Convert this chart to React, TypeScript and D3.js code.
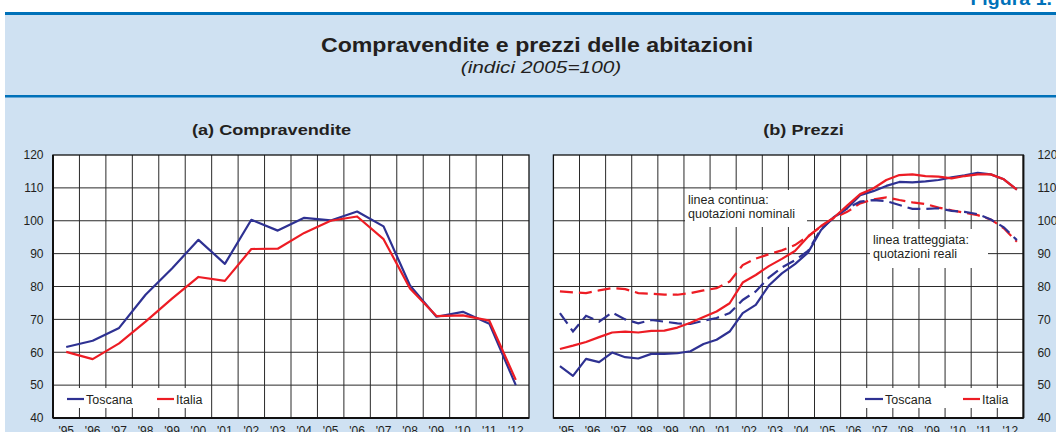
import React from "react";
import * as d3 from "d3";

// ---------- DATA ----------
const years = ["'95", "'96", "'97", "'98", "'99", "'00", "'01", "'02", "'03", "'04", "'05", "'06", "'07", "'08", "'09", "'10", "'11", "'12"];
const yTicks = [40, 50, 60, 70, 80, 90, 100, 110, 120];

// (a) Compravendite – annual
const compToscana = [61.6, 63.5, 67.4, 77.5, 85.5, 94.2, 86.9, 100.3, 97.0, 100.9, 100.1, 102.8, 98.3, 80.3, 70.8, 72.3, 68.7, 50.0];
const compItalia = [60.1, 57.9, 62.7, 69.3, 76.3, 82.9, 81.7, 91.4, 91.5, 96.3, 100.0, 101.3, 94.4, 79.4, 71.0, 71.2, 69.6, 51.6];

// (b) Prezzi – semi-annual ('95 H1 … '12 H2)
const prezziToscanaNom = [55.8, 52.8, 58.0, 57.0, 59.9, 58.5, 58.1, 59.5, 59.5, 59.7, 60.3, 62.5, 63.8, 66.3, 71.9, 74.4, 80.3, 84.0, 86.8, 90.3, 97.2, 101.2, 103.8, 107.8, 109.0, 110.6, 111.8, 111.7, 112.0, 112.4, 113.2, 113.8, 114.6, 114.1, 112.6, 109.5];
const prezziItaliaNom = [61.0, 62.0, 63.1, 64.6, 66.0, 66.3, 66.0, 66.5, 66.6, 67.5, 69.0, 70.7, 72.4, 74.9, 81.2, 83.5, 86.2, 88.4, 90.8, 95.1, 98.4, 101.0, 104.6, 108.1, 109.8, 112.4, 113.9, 114.1, 113.6, 113.4, 112.9, 113.6, 114.1, 114.1, 112.6, 109.5];
const prezziToscanaReal = [71.9, 66.3, 71.1, 69.3, 72.1, 70.0, 68.8, 69.8, 69.3, 68.8, 68.6, 69.6, 70.4, 71.9, 75.9, 78.5, 82.7, 85.8, 88.0, 90.8, 97.5, 101.0, 103.8, 105.8, 106.3, 106.0, 104.8, 103.6, 103.6, 103.8, 103.0, 102.7, 102.0, 100.4, 98.0, 94.1];
const prezziItaliaReal = [78.5, 78.2, 78.0, 78.8, 79.5, 79.2, 78.0, 77.8, 77.5, 77.5, 78.0, 78.8, 79.5, 81.5, 86.5, 88.5, 89.8, 91.0, 92.6, 95.3, 98.2, 100.9, 102.7, 105.3, 106.5, 107.1, 106.3, 105.6, 105.1, 104.0, 103.2, 102.4, 101.7, 100.4, 97.7, 93.6];

const legendLabels = ["Toscana", "Italia"];

// ---------- STYLE ----------
const FONT = "'Liberation Sans', Arial, sans-serif";
const BLUE = "#2e3192";
const RED = "#ed1c24";
const BG = "#cfe1f2";
const RULE = "#0071b9";
const GRID = "#2a2a2a";
const TEXT = "#231f20";

const W = 1056;
const H = 432;
const yTop = 155;
const yBot = 418;

function SText({ x, y, sx = 1, anchor = "start", size, weight = "normal", italic = false, fill = TEXT, children }: any) {
  return (
    <text
      transform={`translate(${x},${y}) scale(${sx},1)`}
      textAnchor={anchor}
      fontSize={size}
      fontWeight={weight}
      fontStyle={italic ? "italic" : "normal"}
      fontFamily={FONT}
      fill={fill}
    >
      {children}
    </text>
  );
}

function Panel({ x0, x1, axisSide, points }: { x0: number; x1: number; axisSide: "left" | "right"; points: "annual" | "semi" }) {
  const y = d3.scaleLinear().domain([40, 120]).range([yBot, yTop]);
  const band = d3.scaleBand().domain(years).range([x0, x1]).padding(0);
  const nSemi = years.length * 2;
  const xs = d3.scaleLinear().domain([0, nSemi]).range([x0, x1]);
  const lineAnnual = (vals: number[]) =>
    d3.line<number>().x((_, i) => (band(years[i]) as number) + band.bandwidth() / 2).y((d) => y(d))(vals) as string;
  const lineSemi = (vals: number[]) =>
    d3.line<number>().x((_, i) => xs(i + 0.5)).y((d) => y(d))(vals) as string;

  const vgrid = years.map((yr) => band(yr) as number).slice(1);
  return (
    <g>
      <rect x={x0} y={yTop} width={x1 - x0} height={yBot - yTop} fill="#fff" />
      {yTicks.slice(1, -1).map((t) => (
        <line key={"h" + t} x1={x0} x2={x1} y1={y(t)} y2={y(t)} stroke={GRID} strokeWidth={1} />
      ))}
      {vgrid.map((gx, i) => (
        <line key={"v" + i} x1={gx} x2={gx} y1={yTop} y2={yBot} stroke={GRID} strokeWidth={1} />
      ))}
      {yTicks.map((t) => (
        <text
          key={"yl" + t}
          x={axisSide === "left" ? x0 - 9.5 : x1 + 14}
          y={y(t) + 4.3}
          textAnchor={axisSide === "left" ? "end" : "start"}
          fontSize={12}
          fontFamily={FONT}
          fill={TEXT}
        >
          {t}
        </text>
      ))}
      {years.map((yr) => (
        <text key={"xl" + yr} x={(band(yr) as number) + band.bandwidth() / 2} y={435} textAnchor="middle" fontSize={12} fontFamily={FONT} fill={TEXT}>
          {yr}
        </text>
      ))}
      {points === "annual" ? (
        <g>
          <rect x={x0 + 1} y={388} width={148} height={20} fill="#fff" />
          <path d={lineAnnual(compToscana)} fill="none" stroke={BLUE} strokeWidth={2.2} strokeLinejoin="round" />
          <path d={lineAnnual(compItalia)} fill="none" stroke={RED} strokeWidth={2.2} strokeLinejoin="round" />
          <line x1={67} x2={84} y1={399} y2={399} stroke={BLUE} strokeWidth={2.2} />
          <text x={86} y={403.5} fontSize={12.5} fontFamily={FONT} fill={TEXT}>{legendLabels[0]}</text>
          <line x1={157} x2={174} y1={399} y2={399} stroke={RED} strokeWidth={2.2} />
          <text x={176} y={403.5} fontSize={12.5} fontFamily={FONT} fill={TEXT}>{legendLabels[1]}</text>
        </g>
      ) : (
        <g>
          <rect x={685} y={190} width={122} height={37} fill="#fff" />
          <text x={688} y={204} fontSize={12.5} fontFamily={FONT} fill={TEXT}>linea continua:</text>
          <text x={688} y={218} fontSize={12.5} fontFamily={FONT} fill={TEXT}>quotazioni nominali</text>
          <rect x={870} y={229} width={118} height={39} fill="#fff" />
          <text x={873} y={244} fontSize={12.5} fontFamily={FONT} fill={TEXT}>linea tratteggiata:</text>
          <text x={873} y={258} fontSize={12.5} fontFamily={FONT} fill={TEXT}>quotazioni reali</text>
          <rect x={850} y={388} width={x1 - 851} height={20} fill="#fff" />
          <path d={lineSemi(prezziItaliaReal)} fill="none" stroke={RED} strokeWidth={2.2} strokeDasharray="13,6" />
          <path d={lineSemi(prezziToscanaReal)} fill="none" stroke={BLUE} strokeWidth={2.2} strokeDasharray="13,6" />
          <path d={lineSemi(prezziToscanaNom)} fill="none" stroke={BLUE} strokeWidth={2.2} strokeLinejoin="round" />
          <path d={lineSemi(prezziItaliaNom)} fill="none" stroke={RED} strokeWidth={2.2} strokeLinejoin="round" />
          <line x1={865} x2={883} y1={399} y2={399} stroke={BLUE} strokeWidth={2.2} />
          <text x={885} y={403.5} fontSize={12.5} fontFamily={FONT} fill={TEXT}>{legendLabels[0]}</text>
          <line x1={963} x2={980} y1={399} y2={399} stroke={RED} strokeWidth={2.2} />
          <text x={982} y={403.5} fontSize={12.5} fontFamily={FONT} fill={TEXT}>{legendLabels[1]}</text>
        </g>
      )}
      <rect x={x0} y={yTop} width={x1 - x0} height={yBot - yTop} fill="none" stroke="#111" strokeWidth={1.3} />
      <line x1={x0} x2={x1} y1={yBot} y2={yBot} stroke="#111" strokeWidth={2} />
      <line x1={axisSide === "left" ? x0 : x1} x2={axisSide === "left" ? x0 : x1} y1={yTop} y2={yBot} stroke="#111" strokeWidth={2} />
    </g>
  );
}

export default function App() {
  return (
    <svg width={W} height={H} style={{ position: "absolute", left: 0, top: 0, background: "#fff" }}>
      <SText x={1052} y={5} sx={1.12} anchor="end" size={17.5} weight="bold" fill={RULE}>Figura 1.</SText>
      <rect x={5} y={14} width={W - 5} height={H - 14} fill={BG} />
      <rect x={5} y={12} width={W - 5} height={3} fill={RULE} />
      <rect x={5} y={95} width={W - 5} height={2.5} fill={RULE} />
      <SText x={537} y={52} sx={1.17} anchor="middle" size={19.8} weight="bold">
        Compravendite e prezzi delle abitazioni
      </SText>
      <SText x={541} y={72.5} sx={1.28} anchor="middle" size={16.3} italic>
        (indici 2005=100)
      </SText>
      <SText x={271.5} y={135} sx={1.17} anchor="middle" size={15.5} weight="bold">
        (a) Compravendite
      </SText>
      <SText x={803.5} y={134.5} sx={1.17} anchor="middle" size={15.5} weight="bold">
        (b) Prezzi
      </SText>
      <Panel x0={53} x1={529} axisSide="left" points="annual" />
      <Panel x0={553.4} x1={1023.4} axisSide="right" points="semi" />
    </svg>
  );
}
